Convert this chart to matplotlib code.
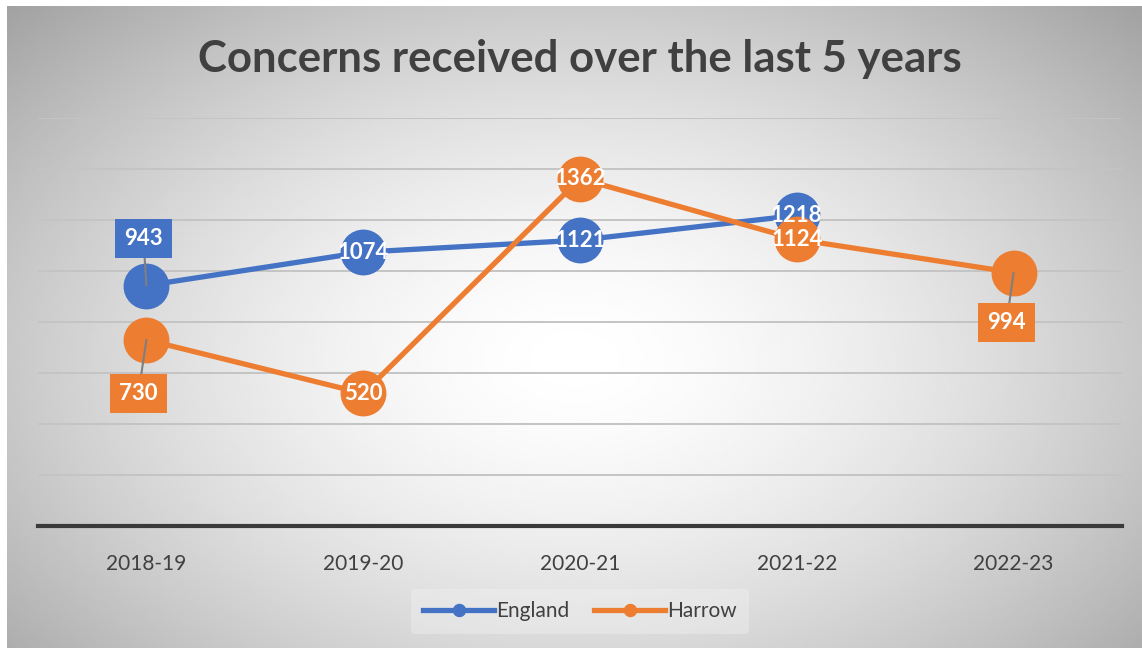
import numpy as np
import matplotlib.pyplot as plt

plt.rcParams['font.family'] = ['Lato', 'DejaVu Sans']

### data
years = ['2018-19', '2019-20', '2020-21', '2021-22', '2022-23']
england = [943, 1074, 1121, 1218]
harrow = [730, 520, 1362, 1124, 994]

blue = '#4472C4'
orange = '#ED7D31'
dark = '#404040'

W, H = 1142, 648
fig = plt.figure(figsize=(W / 100, H / 100), dpi=100)
fig.patch.set_facecolor('white')

#################### background with radial gradient
bg = fig.add_axes([7 / W, 0, 1 - 7 / W, 1 - 6 / H])
bg.set_axis_off()
gx, gy = np.meshgrid(np.linspace(0, 1, 400), np.linspace(0, 1, 250))
r = np.sqrt(((gx - 0.5) / 0.55) ** 2 + ((gy - 0.45) / 0.62) ** 2)
shade = 1.0 - 0.25 * np.clip(r, 0, 1.3) ** 1.6
bg.imshow(shade, cmap='gray', vmin=0, vmax=1, extent=[0, 1, 0, 1],
          aspect='auto', origin='lower', interpolation='bilinear')
bg.set_xlim(0, 1)
bg.set_ylim(0, 1)

#################### main plot
ax = fig.add_axes([38 / W, 1 - 526 / H, (1122 - 38) / W, (526 - 118) / H])
ax.patch.set_alpha(0)
x = np.arange(len(years))

ax.plot(x[:len(england)], england, color=blue, lw=3.8, marker='o', ms=32,
        label='England', zorder=3)
ax.plot(x, harrow, color=orange, lw=3.8, marker='o', ms=32,
        label='Harrow', zorder=4)

ax.set_xlim(-0.5, len(years) - 0.5)
ax.set_ylim(0, 1600)
ax.set_yticks(np.arange(200, 1601, 200))
ax.yaxis.grid(True, color='#c4c4c4', lw=1.4)
ax.set_axisbelow(True)
ax.tick_params(axis='y', left=False, labelleft=False)
ax.set_xticks(x)
ax.set_xticklabels(years, fontsize=15, color=dark)
ax.tick_params(axis='x', length=0, pad=20)
for s in ['top', 'left', 'right']:
    ax.spines[s].set_visible(False)
ax.spines['bottom'].set_color('#3a3a3a')
ax.spines['bottom'].set_linewidth(3)

## labels inside markers
lab = dict(color='white', fontsize=16, fontweight='bold', ha='center', va='center')
for i in [1, 2, 3]:
    ax.text(x[i], england[i], str(england[i]), zorder=5, **lab)
for i in [1, 2, 3]:
    ax.text(x[i], harrow[i], str(harrow[i]), zorder=6, **lab)

## labels in callout boxes
def callout(xi, yi, val, dx, dy, col):
    ax.annotate(str(val), (xi, yi), xytext=(dx, dy), textcoords='offset pixels',
                color='white', fontsize=16, fontweight='bold', ha='center', va='center',
                bbox=dict(boxstyle='square,pad=0.4', fc=col, ec='none'),
                arrowprops=dict(arrowstyle='-', color='#7f7f7f', lw=1.5,
                                shrinkA=0, shrinkB=0),
                zorder=7)

callout(x[0], england[0], england[0], -3, 47, blue)
callout(x[0], harrow[0], harrow[0], -8, -54, orange)
callout(x[4], harrow[4], harrow[4], -7, -50, orange)

fig.text(0.508, 1 - 59 / H, 'Concerns received over the last 5 years',
         ha='center', va='center', fontsize=31.5, fontweight='bold', color=dark)

leg = fig.legend(loc='center', bbox_to_anchor=(0.508, 1 - 611 / H), ncol=2,
                 fontsize=15, frameon=True, handlelength=3.4, columnspacing=1.2,
                 handletextpad=0.1, borderpad=0.6, markerscale=0.27)
leg.get_frame().set_facecolor('#f5f5f5')
leg.get_frame().set_edgecolor('none')
leg.get_frame().set_alpha(0.35)
for t in leg.get_texts():
    t.set_color(dark)

fig.savefig('out.png', dpi=100)
